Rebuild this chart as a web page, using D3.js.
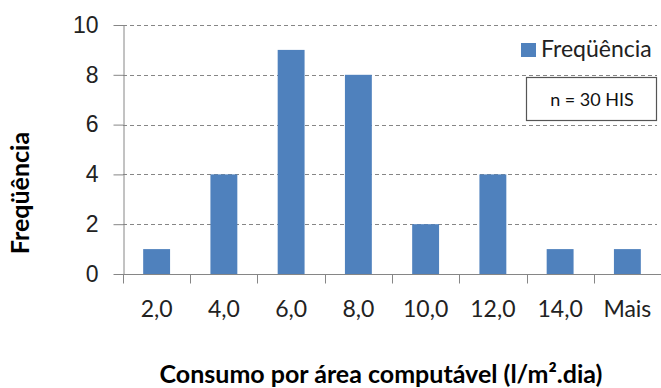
<!DOCTYPE html>
<html>
<head>
<meta charset="utf-8">
<script src="https://cdn.jsdelivr.net/npm/d3@7"></script>
<style>
  html, body { margin: 0; padding: 0; background: #fff; }
  svg { display: block; font-family: Lato, "Open Sans", sans-serif; }
</style>
</head>
<body>
<svg id="chart" width="661" height="388"></svg>
<script>
// Histogram classes (upper bin limits) and counts
const categories = ["2,0", "4,0", "6,0", "8,0", "10,0", "12,0", "14,0", "Mais"];
const frequencies = [1, 4, 9, 8, 2, 4, 1, 1];
const yTicks = [0, 2, 4, 6, 8, 10];

const seriesName = "Freqüência";
const note = "n = 30 HIS";
const xTitle = "Consumo por área computável (l/m².dia)";
const yTitle = "Freqüência";

const svg = d3.select("#chart");
const margin = { left: 123, right: 0, top: 25, bottom: 114 };
const W = 661, H = 388;
const barColor = "#4F81BD";
const axisColor = "#868686";

const x = d3.scaleBand()
  .domain(categories)
  .range([margin.left, W - margin.right])
  .paddingInner(0.6)
  .paddingOuter(0.3);

const y = d3.scaleLinear()
  .domain([0, 10])
  .range([H - margin.bottom, margin.top]);

// dashed horizontal gridlines
svg.append("g")
  .selectAll("line")
  .data(yTicks.filter(d => d > 0))
  .join("line")
  .attr("x1", margin.left)
  .attr("x2", 657)
  .attr("y1", d => Math.round(y(d)) + 0.5)
  .attr("y2", d => Math.round(y(d)) + 0.5)
  .attr("stroke", axisColor)
  .attr("stroke-width", 1)
  .attr("stroke-dasharray", "4,3");

// bars
svg.append("g")
  .selectAll("rect")
  .data(frequencies)
  .join("rect")
  .attr("x", (d, i) => x(categories[i]))
  .attr("width", x.bandwidth())
  .attr("y", d => y(d))
  .attr("height", d => y(0) - y(d))
  .attr("fill", barColor);

// y axis
const yAxis = svg.append("g")
  .attr("transform", `translate(${margin.left + 0.5},0)`)
  .call(d3.axisLeft(y).tickValues(yTicks).tickSize(10).tickPadding(15).tickSizeOuter(0));
yAxis.select(".domain").attr("stroke", axisColor);
yAxis.selectAll(".tick line").attr("stroke", axisColor);
yAxis.selectAll(".tick text")
  .attr("fill", "#222")
  .attr("font-size", "23px");

// x axis: ticks on band boundaries
const xAxisG = svg.append("g")
  .attr("transform", `translate(0,${Math.round(y(0)) + 0.5})`);
xAxisG.append("line")
  .attr("x1", margin.left)
  .attr("x2", W)
  .attr("stroke", axisColor);
const step = x.step();
const boundaries = d3.range(categories.length).map(i => x(categories[i]) - step * x.paddingInner() / 2);
xAxisG.selectAll("line.tk")
  .data(boundaries)
  .join("line")
  .attr("class", "tk")
  .attr("x1", d => Math.round(d) + 0.5)
  .attr("x2", d => Math.round(d) + 0.5)
  .attr("y1", 0)
  .attr("y2", 9)
  .attr("stroke", axisColor);
xAxisG.selectAll("text")
  .data(categories)
  .join("text")
  .attr("x", d => x(d) + x.bandwidth() / 2)
  .attr("y", 42)
  .attr("text-anchor", "middle")
  .attr("fill", "#222")
  .attr("font-size", "23px")
  .text(d => d);

// axis titles
svg.append("text")
  .attr("x", 381)
  .attr("y", 383)
  .attr("text-anchor", "middle")
  .attr("font-weight", "bold")
  .attr("font-size", "25px")
  .attr("fill", "#000")
  .text(xTitle);

svg.append("text")
  .attr("transform", "translate(29,193) rotate(-90)")
  .attr("text-anchor", "middle")
  .attr("font-weight", "bold")
  .attr("font-size", "25px")
  .attr("fill", "#000")
  .text(yTitle);

// legend
svg.append("rect")
  .attr("x", 521).attr("y", 43)
  .attr("width", 15).attr("height", 14)
  .attr("fill", barColor);
svg.append("text")
  .attr("x", 541).attr("y", 57)
  .attr("font-size", "23px")
  .attr("fill", "#222")
  .text(seriesName);

// sample-size note box
svg.append("rect")
  .attr("x", 526.5).attr("y", 77.5)
  .attr("width", 130).attr("height", 43)
  .attr("fill", "#fff")
  .attr("stroke", "#555")
  .attr("stroke-width", 1.2);
svg.append("text")
  .attr("x", 592).attr("y", 106)
  .attr("text-anchor", "middle")
  .attr("font-size", "18px")
  .attr("fill", "#111")
  .text(note);
</script>
</body>
</html>
